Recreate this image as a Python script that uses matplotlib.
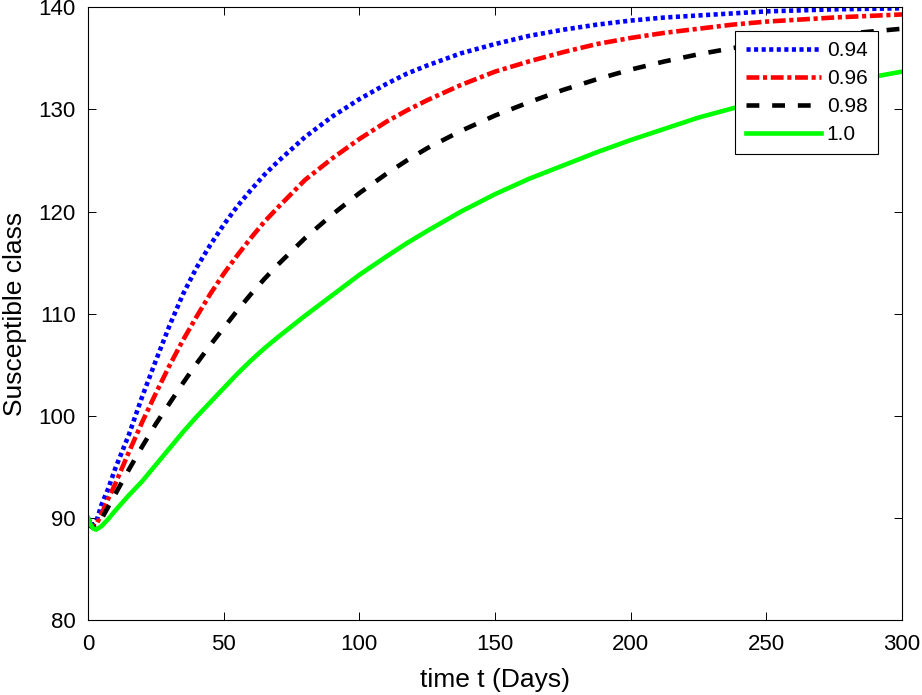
import matplotlib
matplotlib.use("Agg")
import matplotlib.pyplot as plt

plt.rcParams['font.family'] = ['Liberation Sans', 'DejaVu Sans']

t = [0, 1, 2, 3, 5, 7.5, 10, 15, 20, 25, 30, 35, 40, 45, 50, 55, 60, 65, 70,
     80, 90, 100, 110, 117.5, 125, 137.5, 150, 162.5, 175, 187.5, 200, 212.5,
     225, 237.5, 250, 275, 300]

s_094 = [90.0, 89.4, 89.3, 89.6, 91.3, 92.9, 94.8, 98.1, 101.9, 105.4, 108.8,
         111.9, 114.5, 116.7, 118.7, 120.5, 122.1, 123.6, 124.9, 127.3, 129.3,
         131.0, 132.5, 133.5, 134.3, 135.5, 136.4, 137.2, 137.8, 138.3, 138.7,
         139.0, 139.2, 139.4, 139.6, 139.8, 139.9]
s_096 = [89.9, 89.3, 89.1, 89.3, 90.4, 91.9, 93.3, 96.4, 99.4, 102.2, 104.9,
         107.4, 109.7, 111.9, 113.9, 115.7, 117.4, 119.0, 120.4, 123.1, 125.2,
         127.1, 128.8, 129.9, 130.9, 132.4, 133.7, 134.7, 135.6, 136.4, 137.0,
         137.5, 137.9, 138.3, 138.6, 139.0, 139.3]
s_098 = [89.8, 89.2, 89.0, 89.1, 89.9, 91.1, 92.3, 94.7, 97.0, 99.2, 101.2,
         103.2, 105.1, 106.9, 108.6, 110.3, 111.9, 113.4, 114.8, 117.4, 119.7,
         121.8, 123.7, 125.0, 126.2, 127.9, 129.4, 130.7, 131.9, 132.95, 133.9,
         134.7, 135.4, 136.0, 136.5, 137.3, 137.9]
s_100 = [90.0, 89.3, 88.95, 88.85, 89.2, 89.9, 90.7, 92.2, 93.6, 95.2, 96.8,
         98.4, 99.9, 101.3, 102.7, 104.1, 105.4, 106.6, 107.7, 109.8, 111.8,
         113.8, 115.6, 116.9, 118.1, 120.0, 121.7, 123.2, 124.5, 125.8, 127.0,
         128.1, 129.2, 130.1, 131.0, 132.5, 133.7]

labels = ['0.94', '0.96', '0.98', '1.0']
xticks = [0, 50, 100, 150, 200, 250, 300]
yticks = [80, 90, 100, 110, 120, 130, 140]

fig = plt.figure(figsize=(9.22, 6.95), dpi=100)
ax = fig.add_axes([88/922, 1-620/695, (902-88)/922, (620-7.3)/695])

lw = 3.3
ax.plot(t, s_094, color='#0000ff', lw=lw, linestyle=(0, (0.9, 0.75)), label=labels[0])
ax.plot(t, s_096, color='#ff0000', lw=lw, linestyle=(0, (2.8, 0.8, 0.9, 0.8)), label=labels[1])
ax.plot(t, s_098, color='black', lw=lw, linestyle=(0, (2.8, 2.8)), label=labels[2])
ax.plot(t, s_100, color='#00ff00', lw=lw, linestyle='-', label=labels[3])

ax.set_xlim(0, 300)
ax.set_ylim(80, 140)
ax.set_xticks(xticks)
ax.set_yticks(yticks)
ax.tick_params(direction='in', length=6, width=0.7, top=True, right=True,
               labelsize=16)
ax.tick_params(axis='x', pad=10)
ax.tick_params(axis='y', pad=9)
for sp in ax.spines.values():
    sp.set_linewidth(0.8)

ax.set_xlabel('time t (Days)', fontsize=19, labelpad=9.5)
ax.set_ylabel('Susceptible class', fontsize=19, labelpad=8)

leg = ax.legend(loc='upper right', bbox_to_anchor=((878-88)/(902-88), (620-30.7)/(620-7.3)),
                borderaxespad=0, fontsize=15, handlelength=3.6, handletextpad=0.3,
                labelspacing=0.43, borderpad=0.5, fancybox=False, framealpha=1,
                edgecolor='black')
leg.get_frame().set_linewidth(0.8)

fig.savefig('out.png', dpi=100)
